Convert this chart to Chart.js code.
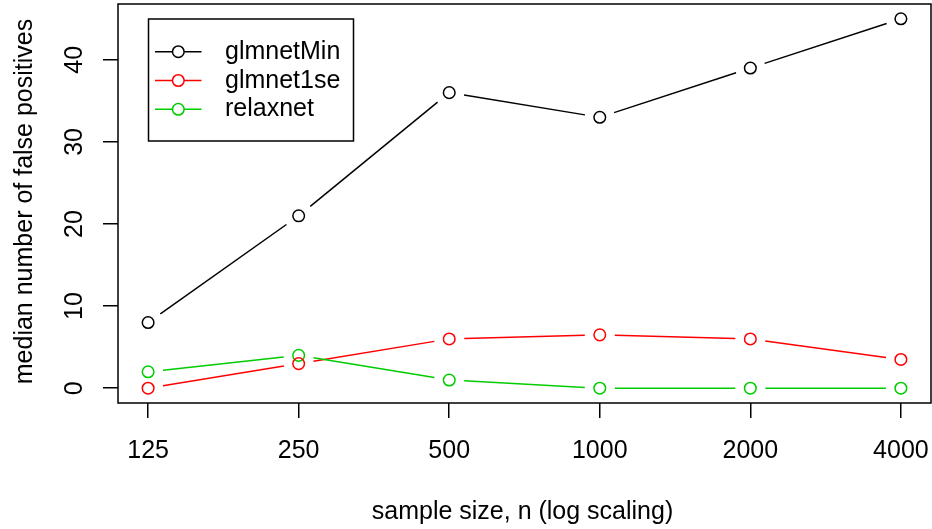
<!DOCTYPE html>
<html>
<head>
<meta charset="utf-8">
<script src="https://cdn.jsdelivr.net/npm/chart.js@4/dist/chart.umd.min.js"></script>
<style>
  html, body { margin: 0; padding: 0; background: #ffffff; }
  #wrap { width: 932px; height: 529px; }
</style>
</head>
<body>
<div id="wrap"><canvas id="c" width="932" height="529"></canvas></div>
<script>
// ---- data ----
const sampleSizes = [125, 250, 500, 1000, 2000, 4000];
const glmnetMin   = [8, 21, 36, 33, 39, 45];
const glmnet1se   = [0, 3, 6, 6.5, 6, 3.5];
const relaxnet    = [2, 4, 1, 0, 0, 0];
const seriesNames = ['glmnetMin', 'glmnet1se', 'relaxnet'];
const yTickValues = [0, 10, 20, 30, 40];
const xTickValues = [125, 250, 500, 1000, 2000, 4000];
const xTitle = 'sample size, n (log scaling)';
const yTitle = 'median number of false positives';

const colors = ['#000000', '#FF0000', '#00CD00'];
const FONT = '25px "Liberation Sans", Arial, Helvetica, sans-serif';

// target plot region
const AREA = { left: 118, top: 4, right: 931, bottom: 403 };

function toXY(vals) { return vals.map((v, i) => ({ x: sampleSizes[i], y: v })); }

const seriesValues = [glmnetMin, glmnet1se, relaxnet];
const datasets = seriesValues.map((vals, i) => ({
  label: seriesNames[i],
  data: toXY(vals),
  showLine: false,
  borderColor: colors[i],
  backgroundColor: 'rgba(0,0,0,0)',
  pointRadius: 5.8,
  pointHoverRadius: 5.8,
  pointBorderWidth: 1.5,
  pointBackgroundColor: 'rgba(0,0,0,0)',
  pointBorderColor: colors[i]
}));

const lx0 = Math.log10(sampleSizes[0]), lx1 = Math.log10(sampleSizes[sampleSizes.length - 1]);
const padX = (lx1 - lx0) * 0.04;
const allY = [].concat(glmnetMin, glmnet1se, relaxnet);
const yMinD = Math.min(...allY), yMaxD = Math.max(...allY);
const padY = (yMaxD - yMinD) * 0.04;

const rStyle = {
  id: 'rStyle',
  beforeDatasetsDraw(chart) {
    const ctx = chart.ctx;
    const gap = 15;
    ctx.save();
    ctx.lineWidth = 1.5;
    chart.data.datasets.forEach((ds, di) => {
      const pts = chart.getDatasetMeta(di).data;
      ctx.strokeStyle = ds.borderColor;
      for (let i = 0; i < pts.length - 1; i++) {
        const a = pts[i], b = pts[i + 1];
        const dx = b.x - a.x, dy = b.y - a.y;
        const len = Math.hypot(dx, dy);
        if (len <= 2 * gap) continue;
        const ux = dx / len, uy = dy / len;
        ctx.beginPath();
        ctx.moveTo(a.x + ux * gap, a.y + uy * gap);
        ctx.lineTo(b.x - ux * gap, b.y - uy * gap);
        ctx.stroke();
      }
    });
    ctx.restore();
  },
  afterDraw(chart) {
    const ctx = chart.ctx;
    const ca = chart.chartArea;
    const xs = chart.scales.x, ys = chart.scales.y;
    ctx.save();
    ctx.strokeStyle = '#000';
    ctx.lineWidth = 1.5;
    ctx.strokeRect(ca.left, ca.top, ca.right - ca.left, ca.bottom - ca.top);

    ctx.fillStyle = '#000';
    ctx.font = FONT;
    ctx.textAlign = 'center';
    ctx.textBaseline = 'alphabetic';
    xTickValues.forEach(v => {
      ctx.fillText(String(v), xs.getPixelForValue(v), 457.7);
    });
    yTickValues.forEach(v => {
      ctx.save();
      ctx.translate(81.7, ys.getPixelForValue(v));
      ctx.rotate(-Math.PI / 2);
      ctx.fillText(String(v), 0, 0);
      ctx.restore();
    });
    ctx.fillText(xTitle, (ca.left + ca.right) / 2 - 2, 518.5);
    ctx.save();
    ctx.translate(32, (ca.top + ca.bottom) / 2 - 2);
    ctx.rotate(-Math.PI / 2);
    ctx.fillText(yTitle, 0, 0);
    ctx.restore();

    // legend
    const lx = 148.5, ly = 19, lw = 205, lh = 122;
    ctx.lineWidth = 1.5;
    ctx.strokeStyle = '#000';
    ctx.fillStyle = '#fff';
    ctx.fillRect(lx, ly, lw, lh);
    ctx.strokeRect(lx, ly, lw, lh);
    const rowY = [51.7, 80.5, 109.3];
    chart.data.datasets.forEach((ds, i) => {
      const y = rowY[i];
      ctx.strokeStyle = ds.borderColor;
      ctx.lineWidth = 1.5;
      ctx.beginPath();
      ctx.moveTo(155, y);
      ctx.lineTo(201.5, y);
      ctx.stroke();
      ctx.fillStyle = '#fff';
      ctx.beginPath();
      ctx.arc(178.3, y, 5.8, 0, Math.PI * 2);
      ctx.fill();
      ctx.stroke();
      ctx.fillStyle = '#000';
      ctx.textAlign = 'left';
      ctx.textBaseline = 'middle';
      ctx.fillText(ds.label, 225, y + 0.3);
    });
    ctx.restore();
  }
};

new Chart(document.getElementById('c'), {
  type: 'scatter',
  data: { datasets },
  options: {
    responsive: false,
    animation: false,
    devicePixelRatio: 1,
    layout: { autoPadding: false, padding: { top: AREA.top, right: 932 - AREA.right, left: 0, bottom: 0 } },
    plugins: { legend: { display: false }, tooltip: { enabled: false } },
    scales: {
      x: {
        type: 'logarithmic',
        min: Math.pow(10, lx0 - padX),
        max: Math.pow(10, lx1 + padX),
        afterBuildTicks: s => { s.ticks = xTickValues.map(v => ({ value: v })); },
        afterFit: s => { s.height = 529 - AREA.bottom; s.paddingLeft = 0; s.paddingRight = 0; },
        grid: { drawOnChartArea: false, drawTicks: true, tickLength: 15, color: '#000', lineWidth: 1.5 },
        border: { display: false },
        ticks: { display: false }
      },
      y: {
        type: 'linear',
        min: yMinD - padY,
        max: yMaxD + padY,
        afterBuildTicks: s => { s.ticks = yTickValues.map(v => ({ value: v })); },
        afterFit: s => { s.width = AREA.left; s.paddingTop = 0; s.paddingBottom = 0; },
        grid: { drawOnChartArea: false, drawTicks: true, tickLength: 15, color: '#000', lineWidth: 1.5 },
        border: { display: false },
        ticks: { display: false }
      }
    }
  },
  plugins: [rStyle]
});
</script>
</body>
</html>
